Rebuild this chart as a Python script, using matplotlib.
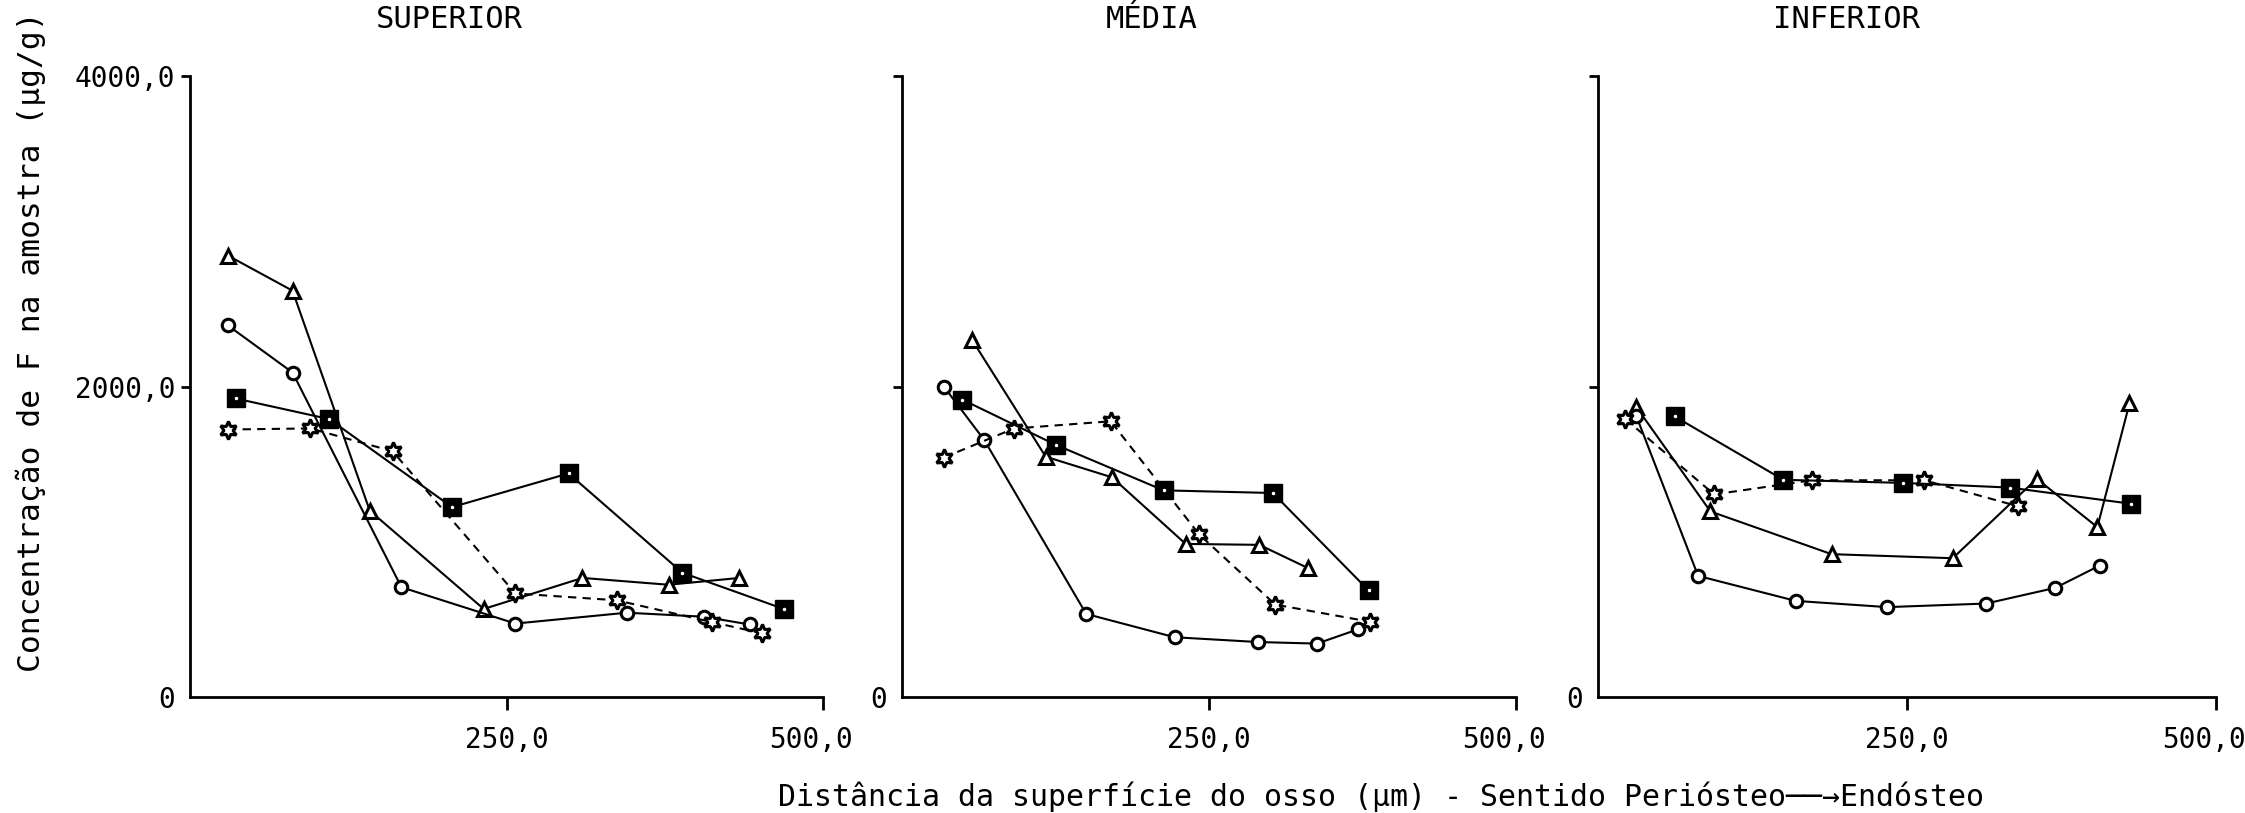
import matplotlib.pyplot as plt
from matplotlib.transforms import ScaledTranslation

# font: typewriter-like, with fallback for odd glyphs
FONT = ['DejaVu Sans Mono', 'DejaVu Sans']
plt.rcParams['font.family'] = FONT

# ---- data (distance in um, F in ug/g) ----
# SUPERIOR
sup_tri_x = [30, 81, 142, 232, 310, 378, 434]
sup_tri_y = [2843, 2617, 1200, 567, 767, 723, 767]
sup_cir_x = [30, 81, 167, 257, 345, 406, 442]
sup_cir_y = [2393, 2090, 707, 473, 543, 517, 467]
sup_sq_x = [36, 110, 207, 299, 389, 469]
sup_sq_y = [1923, 1790, 1223, 1440, 800, 567]
sup_st_x = [30, 95, 160, 257, 337, 412, 452]
sup_st_y = [1723, 1730, 1583, 667, 623, 483, 410]

# MEDIA
med_tri_x = [57, 117, 171, 231, 291, 331]
med_tri_y = [2301, 1548, 1415, 986, 980, 829]
med_cir_x = [34, 67, 150, 222, 290, 338, 371]
med_cir_y = [2000, 1655, 535, 385, 354, 344, 435]
med_sq_x = [49, 125, 213, 302, 380]
med_sq_y = [1916, 1625, 1331, 1314, 686]
med_st_x = [34, 91, 170, 242, 304, 381]
med_st_y = [1542, 1729, 1776, 1047, 595, 485]

# INFERIOR
inf_tri_x = [31, 91, 189, 287, 355, 404, 430]
inf_tri_y = [1868, 1195, 920, 894, 1406, 1094, 1891]
inf_cir_x = [31, 81, 160, 234, 314, 370, 406]
inf_cir_y = [1810, 780, 619, 579, 602, 703, 847]
inf_sq_x = [62, 150, 247, 333, 431]
inf_sq_y = [1807, 1399, 1379, 1349, 1245]
inf_st_x = [22, 94, 173, 264, 340]
inf_st_y = [1791, 1305, 1396, 1396, 1228]

titles = ['SUPERIOR', 'MÉDIA', 'INFERIOR']
title_x = [449, 1152, 1847]          # pixel centres of the titles
x_ticks = [250, 500]
x_ticklabels = ['250,0', '500,0']
y_ticks = [0, 2000, 4000]
y_ticklabels = ['0', '2000,0', '4000,0']

panels = [
    (sup_tri_x, sup_tri_y, sup_cir_x, sup_cir_y, sup_sq_x, sup_sq_y, sup_st_x, sup_st_y),
    (med_tri_x, med_tri_y, med_cir_x, med_cir_y, med_sq_x, med_sq_y, med_st_x, med_st_y),
    (inf_tri_x, inf_tri_y, inf_cir_x, inf_cir_y, inf_sq_x, inf_sq_y, inf_st_x, inf_st_y),
]

W, H = 2245, 813
# axis boxes in pixels: (left, right)
boxes = [(190, 823), (902, 1516), (1598, 2216)]
bottom_px, top_px = 697, 76

fig = plt.figure(figsize=(W / 100, H / 100), dpi=100)

lw = 1.5
for i, (box, data) in enumerate(zip(boxes, panels)):
    l, r = box
    ax = fig.add_axes([l / W, 1 - bottom_px / H, (r - l) / W, (bottom_px - top_px) / H])
    tx, ty, cx, cy, qx, qy, sx, sy = data

    ax.plot(tx, ty, color='black', lw=lw, marker='^', ms=10, mfc='white',
            mec='black', mew=2.2, clip_on=False, zorder=3)
    ax.plot(cx, cy, color='black', lw=lw, marker='o', ms=9, mfc='white',
            mec='black', mew=2.2, clip_on=False, zorder=3)
    ax.plot(sx, sy, color='black', lw=lw, ls=(0, (4, 3)), marker=(6, 1, 0), ms=13,
            mfc='white', mec='black', mew=2.2, clip_on=False, zorder=3)
    ax.plot(qx, qy, color='black', lw=lw, marker='s', ms=13, mfc='black',
            mec='black', clip_on=False, zorder=4)
    ax.plot(qx, qy, ls='none', marker='.', ms=3, color='white', clip_on=False, zorder=5)

    ax.set_xlim(0, 500)
    ax.set_ylim(0, 4000)
    for s in ('top', 'right'):
        ax.spines[s].set_visible(False)
    for s in ('left', 'bottom'):
        ax.spines[s].set_linewidth(2)

    ax.set_xticks(x_ticks)
    ax.set_xticklabels(x_ticklabels)
    ax.set_yticks(y_ticks)
    if i == 0:
        ax.set_yticklabels(y_ticklabels)
    else:
        ax.set_yticklabels(['0', '', ''])
    ax.tick_params(axis='x', direction='out', length=9, width=2, pad=12, labelsize=20)
    ax.tick_params(axis='y', direction='out', length=6.5, width=2, pad=4, labelsize=20)
    ax.yaxis.get_major_ticks()[0].tick1line.set_visible(False)
    # the "500,0" labels sit a little left of their tick in the original
    lab = ax.get_xticklabels()[1]
    lab.set_transform(lab.get_transform() + ScaledTranslation(-12 / 100, 0, fig.dpi_scale_trans))

    fig.text(title_x[i] / W, 1 - 20 / H, titles[i], ha='center', va='center',
             fontsize=22)

fig.text(31 / W, 1 - 342 / H, 'Concentração de F na amostra (µg/g)', rotation=90,
         ha='center', va='center', fontsize=22.5)
fig.text(778 / W, 1 - 797 / H,
         'Distância da superfície do osso (µm) - Sentido Periósteo\u2500\u2500\u2192Endósteo',
         ha='left', va='center', fontsize=21.5)

fig.savefig('out.png', dpi=100)
